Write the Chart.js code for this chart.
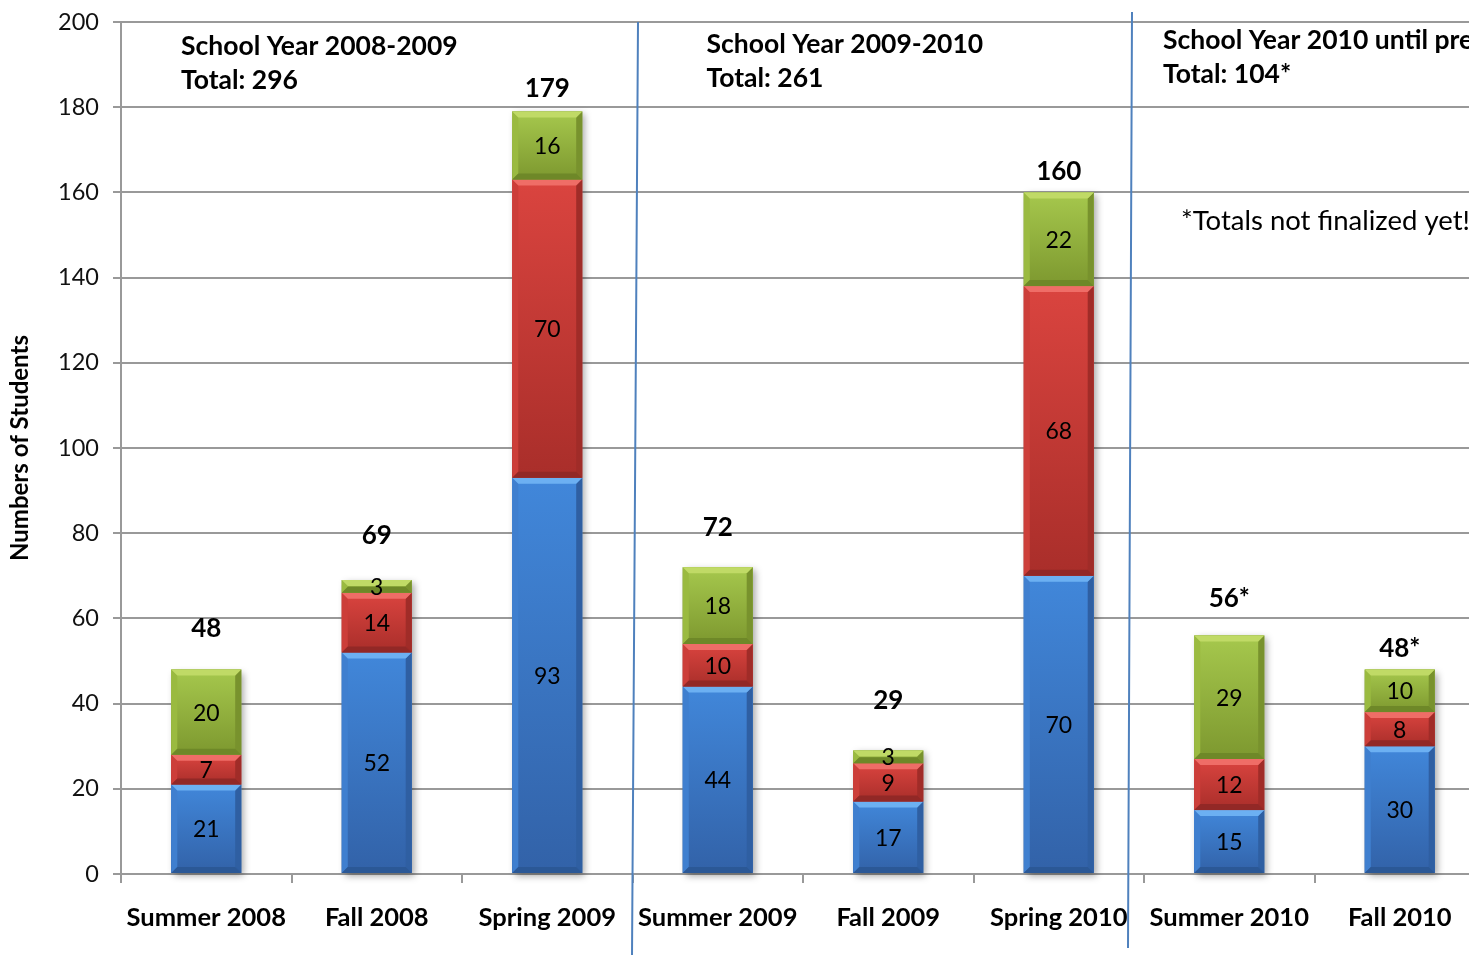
<!DOCTYPE html>
<html>
<head>
<meta charset="utf-8">
<script src="https://cdn.jsdelivr.net/npm/chart.js@4.4.0/dist/chart.umd.min.js"></script>
<style>
  html, body { margin: 0; padding: 0; background: #fff; overflow: hidden; }
  canvas { display: block; }
</style>
</head>
<body>
<canvas id="studentsChart" width="1485" height="955"></canvas>
<script>
// data
const terms = ['Summer 2008', 'Fall 2008', 'Spring 2009', 'Summer 2009', 'Fall 2009', 'Spring 2010', 'Summer 2010', 'Fall 2010'];
const blueCounts = [21, 52, 93, 44, 17, 70, 15, 30];
const redCounts = [7, 14, 70, 10, 9, 68, 12, 8];
const greenCounts = [20, 3, 16, 18, 3, 22, 29, 10];
const totalLabels = ['48', '69', '179', '72', '29', '160', '56*', '48*'];
const yearHeadings = [
  ['School Year 2008-2009', 'Total: 296'],
  ['School Year 2009-2010', 'Total: 261'],
  ['School Year 2010 until present', 'Total: 104*']
];
const footNote = '*Totals not finalized yet!';

const FONT = 'Lato, "Open Sans", sans-serif';

// bevel colours per series
const palettes = [
  { faceTop: '#4187da', faceBot: '#3262a8', top: '#6cb0f2', sideL: '#3f7fcf', sideR: '#2f5fa2', bottom: '#2b5896' },
  { faceTop: '#da443f', faceBot: '#a92e2a', top: '#ef6d67', sideL: '#cc3e39', sideR: '#a02c28', bottom: '#922826' },
  { faceTop: '#a6c84d', faceBot: '#7d982f', top: '#c0da66', sideL: '#9aba40', sideR: '#78922d', bottom: '#6e8828' }
];

// label offsets above each stack (px), as placed in the original
const totalOffsets = [41, 44, 23, 40, 50, 21, 37, 21];

function poly(ctx, pts, color) {
  ctx.beginPath();
  ctx.moveTo(pts[0][0], pts[0][1]);
  for (let i = 1; i < pts.length; i++) ctx.lineTo(pts[i][0], pts[i][1]);
  ctx.closePath();
  ctx.fillStyle = color;
  ctx.fill();
}

function barBox(el) {
  const p = el.getProps(['x', 'y', 'base', 'width'], true);
  return { l: p.x - p.width / 2, r: p.x + p.width / 2, t: Math.min(p.y, p.base), b: Math.max(p.y, p.base), cx: p.x };
}

const bevelPlugin = {
  id: 'bevel',
  beforeDatasetsDraw(chart) {
    const ctx = chart.ctx;
    const blueMeta = chart.getDatasetMeta(0);
    const greenMeta = chart.getDatasetMeta(2);
    ctx.save();
    ctx.shadowColor = 'rgba(0,0,0,0.35)';
    ctx.shadowBlur = 7;
    ctx.shadowOffsetX = 3;
    ctx.shadowOffsetY = 3;
    ctx.fillStyle = '#777';
    blueMeta.data.forEach((el, i) => {
      const lo = barBox(el);
      const hi = barBox(greenMeta.data[i]);
      ctx.fillRect(lo.l, hi.t, lo.r - lo.l, lo.b - hi.t);
    });
    ctx.restore();
  },
  afterDatasetsDraw(chart) {
    const ctx = chart.ctx;
    ctx.save();
    chart.data.datasets.forEach((ds, di) => {
      const pal = palettes[di];
      chart.getDatasetMeta(di).data.forEach((el) => {
        const { l, r, t, b } = barBox(el);
        const w = r - l, h = b - t;
        const s = Math.min(6, h / 2, w / 2);
        const g = ctx.createLinearGradient(0, t, 0, b);
        g.addColorStop(0, pal.faceTop);
        g.addColorStop(1, pal.faceBot);
        ctx.fillStyle = g;
        ctx.fillRect(l, t, w, h);
        poly(ctx, [[l, t], [l + s, t + s], [l + s, b - s], [l, b]], pal.sideL);
        poly(ctx, [[r, t], [r - s, t + s], [r - s, b - s], [r, b]], pal.sideR);
        poly(ctx, [[l, b], [r, b], [r - s, b - s], [l + s, b - s]], pal.bottom);
        poly(ctx, [[l, t], [r, t], [r - s, t + s], [l + s, t + s]], pal.top);
      });
    });

    // values inside the segments
    ctx.fillStyle = '#000';
    ctx.textAlign = 'center';
    ctx.textBaseline = 'middle';
    ctx.font = '23px ' + FONT;
    chart.data.datasets.forEach((ds, di) => {
      chart.getDatasetMeta(di).data.forEach((el, i) => {
        const { t, b, cx } = barBox(el);
        ctx.fillText(String(ds.data[i]), cx, (t + b) / 2 + 1);
      });
    });

    // totals above each stack
    ctx.font = 'bold 26px ' + FONT;
    chart.getDatasetMeta(2).data.forEach((el, i) => {
      const { t, cx } = barBox(el);
      ctx.fillText(totalLabels[i], cx, t - totalOffsets[i]);
    });
    ctx.restore();
  },
  afterDraw(chart) {
    const ctx = chart.ctx;
    const xs = chart.scales.x;
    const area = chart.chartArea;
    const catW = xs.getPixelForValue(1) - xs.getPixelForValue(0);
    const edge = (k) => xs.getPixelForValue(k) - catW / 2;

    ctx.save();
    // year separators
    ctx.strokeStyle = '#4f81bd';
    ctx.lineWidth = 2;
    const b1 = edge(3), b2 = edge(6);
    ctx.beginPath();
    ctx.moveTo(b1 + 5.5, area.top);
    ctx.lineTo(b1 - 0.5, chart.height);
    ctx.moveTo(b2 - 12, area.top - 10);
    ctx.lineTo(b2 - 16, chart.height - 7);
    ctx.stroke();

    // year headings
    ctx.fillStyle = '#000';
    ctx.textAlign = 'left';
    ctx.textBaseline = 'middle';
    ctx.font = 'bold 26.5px ' + FONT;
    const headPos = [[edge(0) + 60, 46], [b1 + 74, 44], [b2 + 19, 40]];
    yearHeadings.forEach((lines, i) => {
      ctx.fillText(lines[0], headPos[i][0], headPos[i][1]);
      ctx.fillText(lines[1], headPos[i][0], headPos[i][1] + 34);
    });
    ctx.font = '27.5px ' + FONT;
    ctx.fillText(footNote, b2 + 37, 221);
    ctx.restore();
  }
};

const ctx = document.getElementById('studentsChart').getContext('2d');

const chart = new Chart(ctx, {
  type: 'bar',
  data: {
    labels: terms,
    datasets: [
      { label: 'Blue', data: blueCounts, backgroundColor: palettes[0].faceTop },
      { label: 'Red', data: redCounts, backgroundColor: palettes[1].faceTop },
      { label: 'Green', data: greenCounts, backgroundColor: palettes[2].faceTop }
    ]
  },
  options: {
    responsive: false,
    animation: false,
    layout: { padding: { top: 22, left: 0, right: 0, bottom: 0 } },
    datasets: { bar: { categoryPercentage: 1, barPercentage: 0.41 } },
    plugins: {
      legend: { display: false },
      tooltip: { enabled: false }
    },
    scales: {
      x: {
        stacked: true,
        grid: { offset: true, drawOnChartArea: false, color: '#999', lineWidth: 2, tickLength: 9 },
        border: { color: '#999', width: 2 },
        ticks: { color: '#000', font: { family: FONT, size: 25.5, weight: 'bold' }, padding: 19, maxRotation: 0, autoSkip: false },
        afterFit(scale) { scale.height = 81; scale.paddingLeft = 0; scale.paddingRight = 0; }
      },
      y: {
        stacked: true,
        min: 0,
        max: 200,
        ticks: { stepSize: 20, color: '#111', font: { family: FONT, size: 23.5 }, padding: 14 },
        grid: { color: '#999', lineWidth: 2, tickLength: 8 },
        border: { color: '#999', width: 2 },
        title: { display: true, text: 'Numbers of Students', color: '#000', font: { family: FONT, size: 24, weight: 'bold' }, padding: { top: 6, bottom: 0 } },
        afterFit(scale) { scale.width = 121; scale.paddingTop = 0; scale.paddingBottom = 0; }
      }
    }
  },
  plugins: [bevelPlugin]
});
</script>
</body>
</html>
